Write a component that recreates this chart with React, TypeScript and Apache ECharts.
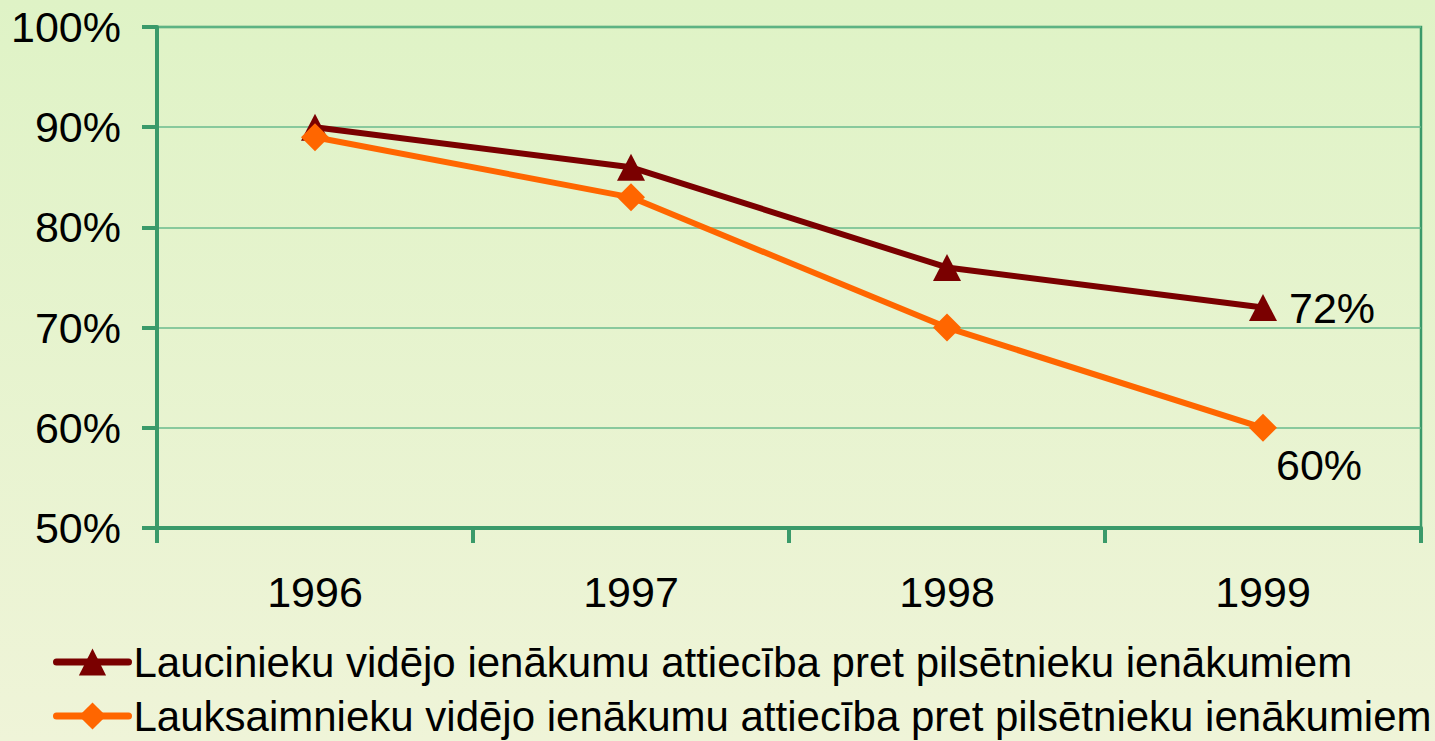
import React, { useEffect, useRef } from "react";
import * as echarts from "echarts";

const years = ["1996", "1997", "1998", "1999"];
const seriesNames = [
  "Laucinieku vidējo ienākumu attiecība pret pilsētnieku ienākumiem",
  "Lauksaimnieku vidējo ienākumu attiecība pret pilsētnieku ienākumiem",
];
const laucinieki = [90, 86, 76, 72];
const lauksaimnieki = [89, 83, 70, 60];

const FONT = "'Liberation Sans', Arial, sans-serif";

function withLastLabel(values: number[], label: any) {
  return values.map((v, i) =>
    i === values.length - 1 ? { value: v, label: { show: true, ...label } } : v
  );
}

const legendBase = {
  orient: "horizontal",
  left: 48,
  itemWidth: 72,
  itemHeight: 34,
  textStyle: { fontSize: 42, color: "#000", fontFamily: FONT },
  lineStyle: { width: 7, cap: "round" },
};

export default function App() {
  const ref = useRef<HTMLDivElement>(null);
  useEffect(() => {
    document.body.style.margin = "0";
    const chart = echarts.init(ref.current!, null, { renderer: "svg" });
    chart.setOption({
      animation: false,
      backgroundColor: {
        type: "linear",
        x: 0,
        y: 0,
        x2: 0,
        y2: 1,
        colorStops: [
          { offset: 0, color: "#dff3c6" },
          { offset: 1, color: "#eff4d8" },
        ],
      },
      textStyle: { fontFamily: FONT },
      grid: {
        left: 157,
        right: 14,
        top: 27,
        bottom: 213,
        show: true,
        borderColor: "#3a9a6a",
        borderWidth: 2.5,
        backgroundColor: "transparent",
      },
      legend: [
        { ...legendBase, top: 636, data: [seriesNames[0]] },
        { ...legendBase, top: 690, data: [seriesNames[1]] },
      ],
      xAxis: {
        type: "category",
        data: years,
        boundaryGap: true,
        axisLine: { lineStyle: { color: "#3a9a6a", width: 4 } },
        axisTick: { show: true, length: 15, lineStyle: { color: "#3a9a6a", width: 4 } },
        axisLabel: { fontSize: 43, color: "#000", margin: 42, fontFamily: FONT },
      },
      yAxis: {
        type: "value",
        min: 50,
        max: 100,
        interval: 10,
        axisLine: { show: true, lineStyle: { color: "#3a9a6a", width: 4 } },
        axisTick: { show: true, length: 15, lineStyle: { color: "#3a9a6a", width: 4 } },
        splitLine: { show: true, lineStyle: { color: "#6abb8c", width: 1.5 } },
        axisLabel: {
          fontSize: 43,
          color: "#000",
          margin: 36,
          formatter: "{value}%",
          fontFamily: FONT,
        },
      },
      series: [
        {
          name: seriesNames[0],
          type: "line",
          data: withLastLabel(laucinieki, {
            position: "right",
            distance: 12,
            formatter: "{c}%",
            fontSize: 43,
            color: "#000",
            fontFamily: FONT,
          }),
          symbol: "triangle",
          symbolSize: [28, 27],
          itemStyle: { color: "#7a0000" },
          lineStyle: { color: "#7a0000", width: 6 },
          z: 3,
        },
        {
          name: seriesNames[1],
          type: "line",
          data: withLastLabel(lauksaimnieki, {
            position: "bottom",
            distance: 2,
            offset: [56, 0],
            formatter: "{c}%",
            fontSize: 43,
            color: "#000",
            fontFamily: FONT,
          }),
          symbol: "diamond",
          symbolSize: [28, 28],
          itemStyle: { color: "#ff6600" },
          lineStyle: { color: "#ff6600", width: 6 },
          z: 4,
        },
      ],
    });
    return () => chart.dispose();
  }, []);
  return <div ref={ref} style={{ width: 1435, height: 741 }} />;
}
